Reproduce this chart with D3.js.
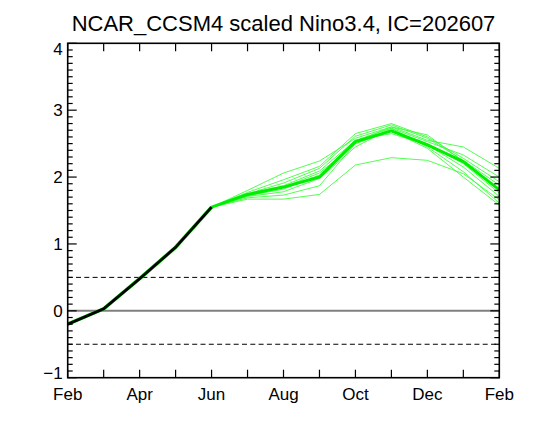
<!DOCTYPE html>
<html><head><meta charset="utf-8">
<script src="https://cdn.jsdelivr.net/npm/d3@7"></script>
<style>body{margin:0;background:#fff}svg{display:block}text{font-family:"Liberation Sans",Arial,sans-serif;fill:#000}</style>
</head><body><svg id="c" width="540" height="432"></svg>
<script>
const title = "NCAR_CCSM4 scaled Nino3.4, IC=202607";
const months = ["Feb","Mar","Apr","May","Jun","Jul","Aug","Sep","Oct","Nov","Dec","Jan","Feb"];
const xLabelIdx = [0,2,4,6,8,10,12];
const yTicks = [-1,0,1,2,3,4];
const observed = [-0.2, 0.03, 0.48, 0.95, 1.55];           // Feb..Jun
const fcStart = 4;                                          // forecast starts at Jun
const members = [
  [1.55,1.67,1.67,1.74,2.18,2.29,2.25,2.05,1.66],
  [1.55,1.80,2.06,2.24,2.58,2.75,2.55,2.45,2.13],
  [1.55,1.77,1.96,2.16,2.65,2.80,2.60,2.28,1.93],
  [1.55,1.75,1.91,2.13,2.61,2.78,2.58,2.25,1.88],
  [1.55,1.74,1.87,2.09,2.55,2.73,2.53,2.33,2.00],
  [1.55,1.73,1.85,2.06,2.50,2.70,2.50,2.20,1.76],
  [1.55,1.72,1.82,2.03,2.55,2.65,2.48,2.15,1.71],
  [1.55,1.71,1.78,1.98,2.45,2.73,2.45,2.08,1.61],
  [1.55,1.69,1.73,1.87,2.50,2.69,2.43,2.00,1.58],
  [1.55,1.72,1.85,2.00,2.53,2.75,2.63,2.23,1.81]
];
const ensMean = [1.55,1.74,1.85,2.00,2.53,2.69,2.48,2.23,1.81];
const refLines = [0.5,-0.5];

const svg = d3.select("#c");
const L=67.7, R=499.3, T=43.3, B=377.7;
const x = d3.scaleLinear().domain([0,12]).range([L,R]);
const y = d3.scaleLinear().domain([-1,4]).range([B,T]);

svg.append("text").attr("x",(L+R)/2).attr("y",31).attr("text-anchor","middle")
  .style("font-size","22px").text(title);

svg.append("clipPath").attr("id","pc").append("rect")
  .attr("x",L).attr("y",T).attr("width",R-L).attr("height",B-T);
const g = svg.append("g").attr("clip-path","url(#pc)");

// reference lines
g.append("line").attr("x1",L).attr("x2",R).attr("y1",y(0)).attr("y2",y(0))
  .attr("stroke","#808080").attr("stroke-width",2);
refLines.forEach(v=>g.append("line").attr("x1",L).attr("x2",R).attr("y1",y(v)).attr("y2",y(v))
  .attr("stroke","#000").attr("stroke-width",1).attr("stroke-dasharray","5,3.3"));

const line = d3.line().x(d=>x(d[0])).y(d=>y(d[1]));
members.forEach(m=>{
  g.append("path").datum(m.map((v,i)=>[i+fcStart,v])).attr("d",line)
   .attr("fill","none").attr("stroke","#33ff33").attr("stroke-opacity",0.85).attr("stroke-width",1);
});
g.append("path").datum(ensMean.map((v,i)=>[i+fcStart,v])).attr("d",line)
  .attr("fill","none").attr("stroke","#00ee00").attr("stroke-width",3).attr("stroke-linejoin","round");
const obs = observed.map((v,i)=>[i,v]);
g.append("path").datum(obs).attr("d",line).attr("fill","none").attr("stroke","#00cc00").attr("stroke-width",3.6);
g.append("path").datum(obs).attr("d",line).attr("fill","none").attr("stroke","#000").attr("stroke-width",2.6);

// frame
svg.append("rect").attr("x",L).attr("y",T).attr("width",R-L).attr("height",B-T)
  .attr("fill","none").attr("stroke","#000").attr("stroke-width",1.6);

// y axes (left and right) with minor ticks
const minor = d3.range(-1,4.0001,0.1).map(v=>Math.round(v*10)/10);
const tk = svg.append("g").attr("stroke","#000");
minor.forEach(v=>{
  const major = Math.abs(v-Math.round(v))<1e-6;
  const len = major?9:5;
  tk.append("line").attr("x1",L).attr("x2",L+len).attr("y1",y(v)).attr("y2",y(v)).attr("stroke-width",1.2);
  tk.append("line").attr("x1",R).attr("x2",R-len).attr("y1",y(v)).attr("y2",y(v)).attr("stroke-width",1.2);
});
d3.range(0,13).forEach(i=>{
  tk.append("line").attr("x1",x(i)).attr("x2",x(i)).attr("y1",B).attr("y2",B-8).attr("stroke-width",1.2);
  tk.append("line").attr("x1",x(i)).attr("x2",x(i)).attr("y1",T).attr("y2",T+8).attr("stroke-width",1.2);
});
yTicks.forEach(v=>{
  const shift = v===4 ? 6 : (v===-1 ? -5 : 0);
  svg.append("text").attr("x",L-5).attr("y",y(v)+6+shift).attr("text-anchor","end")
    .style("font-size","17px").text(v<0?"\u2212"+Math.abs(v):v);
});
xLabelIdx.forEach(i=>svg.append("text").attr("x",x(i)).attr("y",400).attr("text-anchor","middle")
  .style("font-size","17px").text(months[i]));
</script></body></html>
